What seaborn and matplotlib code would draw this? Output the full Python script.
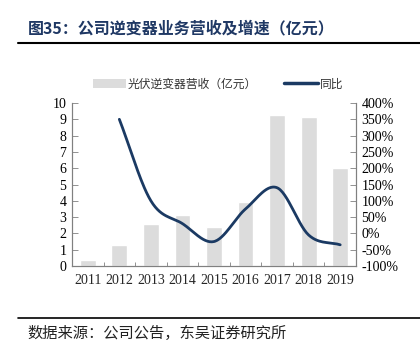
import numpy as np
import pandas as pd
import seaborn as sns
import matplotlib.pyplot as plt
from matplotlib.lines import Line2D
from matplotlib.patches import Patch

# data
years = ['2011', '2012', '2013', '2014', '2015', '2016', '2017', '2018', '2019']
revenue = [0.35, 1.3, 2.55, 3.1, 2.4, 3.95, 9.25, 9.15, 6.0]
growth_years = ['2012', '2013', '2014', '2015', '2016', '2017', '2018', '2019']
growth = [350, 100, 30, -25, 75, 140, -5, -35]

sns.set_theme(style='white')
plt.rcParams['font.family'] = ['Liberation Serif', 'Noto Sans CJK SC', 'DejaVu Sans']
cjk = ['Noto Sans CJK SC', 'DejaVu Sans']

navy = '#1B3A63'
bar_grey = '#DCDCDC'

fig = plt.figure(figsize=(4.2, 3.55), dpi=100)
ax = fig.add_axes([72 / 420, 1 - 266 / 355, 284 / 420, 163 / 355])

df = pd.DataFrame({'year': years, 'revenue': revenue})
sns.barplot(data=df, x='year', y='revenue', color=bar_grey, width=0.5,
            saturation=1, ax=ax, zorder=1)
ax.set_ylim(0, 10)
ax.set_yticks(range(0, 11))
ax.set_xlim(-0.5, len(years) - 0.5)
ax.set_xlabel('')
ax.set_ylabel('')

# smooth line through the growth points (Catmull-Rom, like Excel smoothing)
def smooth(xs, ys, n=30):
    xs = np.asarray(xs, float)
    ys = np.asarray(ys, float)
    px = np.concatenate([[2 * xs[0] - xs[1]], xs, [2 * xs[-1] - xs[-2]]])
    py = np.concatenate([[2 * ys[0] - ys[1]], ys, [2 * ys[-1] - ys[-2]]])
    out_x, out_y = [], []
    for i in range(1, len(px) - 2):
        t = np.linspace(0, 1, n)
        for p, out in ((px, out_x), (py, out_y)):
            p0, p1, p2, p3 = p[i - 1], p[i], p[i + 1], p[i + 2]
            out.extend(0.5 * (2 * p1 + (-p0 + p2) * t
                              + (2 * p0 - 5 * p1 + 4 * p2 - p3) * t ** 2
                              + (-p0 + 3 * p1 - 3 * p2 + p3) * t ** 3))
    return out_x, out_y

gx = [years.index(y) for y in growth_years]
sx, sy = smooth(gx, growth)

ax2 = ax.twinx()
sns.lineplot(x=sx, y=sy, color=navy, linewidth=2.0, ax=ax2, sort=False)
ax2.set_ylim(-100, 400)
ax2.set_yticks(range(-100, 401, 50))
ax2.set_yticklabels([f'{v}%' for v in range(-100, 401, 50)])
ax2.set_xlim(-0.5, len(years) - 0.5)

for a in (ax, ax2):
    a.spines['top'].set_visible(False)
    for s in ('left', 'right', 'bottom'):
        a.spines[s].set_color('#808080')
        a.spines[s].set_linewidth(0.8)
    a.tick_params(axis='y', direction='in', length=4, width=0.6, color='#808080',
                  labelsize=10, labelcolor='black', pad=4)
ax.tick_params(axis='y', left=True, right=False)
ax2.tick_params(axis='y', right=True, left=False)
ax.set_xticks(np.arange(len(years)))
ax.set_xticklabels(years)
ax.set_xticks(np.arange(len(years) + 1) - 0.5, minor=True)
ax.tick_params(axis='x', which='major', length=0, labelsize=10, pad=6)
ax.tick_params(axis='x', which='minor', direction='in', length=3, width=0.6,
               color='#808080', bottom=True)

handles = [Patch(facecolor=bar_grey, edgecolor='none'),
           Line2D([], [], color=navy, linewidth=2.5)]
leg = fig.legend(handles, ['光伏逆变器营收（亿元）', '同比'], loc='center',
                 bbox_to_anchor=(218 / 420, 1 - 84 / 355), ncol=2, frameon=False,
                 prop={'family': cjk, 'size': 8.5}, handlelength=2.8,
                 handleheight=0.8, columnspacing=2.3, handletextpad=0.2)
for t in leg.get_texts():
    t.set_color('#333333')

fig.text(28 / 420, 1 - 28 / 355, '图35：公司逆变器业务营收及增速（亿元）',
         family=cjk, fontsize=11.5, fontweight='bold', color='#1F3864', va='center')
fig.add_artist(Line2D([18 / 420, 1], [1 - 43 / 355] * 2, color='black', linewidth=1.5))
fig.add_artist(Line2D([18 / 420, 1], [1 - 318 / 355] * 2, color='black', linewidth=1.2))
fig.text(27 / 420, 1 - 333 / 355, '数据来源：公司公告，东吴证券研究所',
         family=cjk, fontsize=11, color='#222222', va='center')

fig.savefig('out.png', dpi=100)
